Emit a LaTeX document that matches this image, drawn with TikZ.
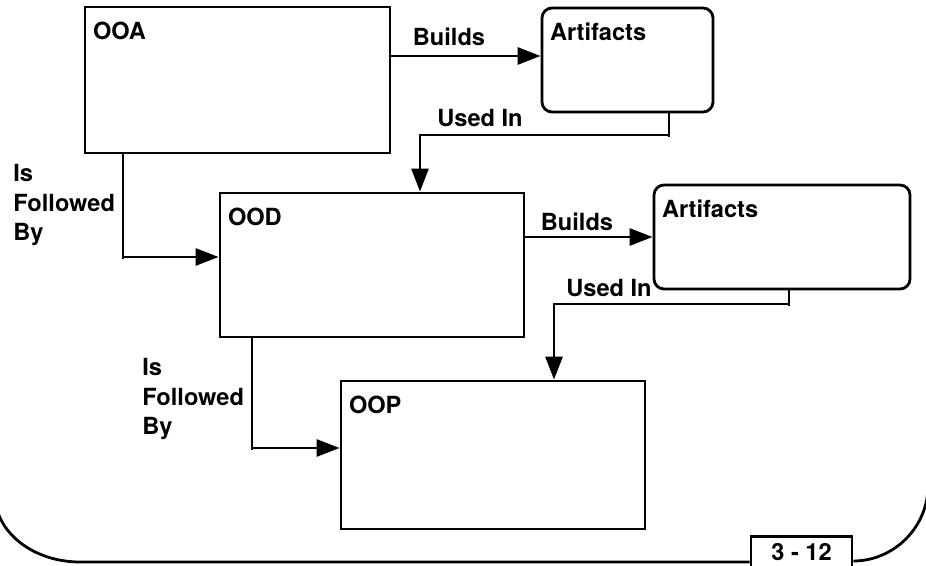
\documentclass[tikz,border=0pt]{standalone}
\usepackage{fontspec}
\setmainfont{TeX Gyre Heros}
\usetikzlibrary{arrows.meta}
\begin{document}
\begin{tikzpicture}[x=0.5pt, y=-0.5pt, line width=1.4pt,
  font=\fontsize{11.8}{14.75}\selectfont\bfseries,
  box/.style={draw, inner sep=0pt},
  art/.style={box, rounded corners=5pt},
  title/.style={anchor=north west, inner sep=0pt, xshift=4pt, yshift=-7.5pt},
  lbl/.style={inner sep=0pt},
  arr/.style={-{Triangle[length=11.5pt,width=8.5pt]}}]
\useasboundingbox (0,0) rectangle (926,566);
% boxes
\node[box, minimum width=152.5pt, minimum height=73pt, label={[title]north west:OOA}] (ooa) at (237.5,80) {};
\node[art, minimum width=85.5pt, minimum height=52pt, label={[title]north west:Artifacts}] (art1) at (627.5,60) {};
\node[box, minimum width=152pt, minimum height=72pt, label={[title]north west:OOD}] (ood) at (372,265) {};
\node[art, minimum width=128pt, minimum height=52pt, label={[title]north west:Artifacts}] (art2) at (782,237) {};
\node[box, minimum width=152pt, minimum height=74pt, label={[title]north west:OOP}] (oop) at (493,455) {};
% labels
\node[lbl] (builds1) at (449,37) {Builds};
\node[lbl] (used1) at (480,118) {Used In};
\node[lbl] (builds2) at (577,222) {Builds};
\node[lbl] (used2) at (609,288) {Used In};
\node[lbl, anchor=north west, align=left] (foll1) at (12,163) {Is\\Followed\\By};
\node[lbl, anchor=north west, align=left] (foll2) at (141,357) {Is\\Followed\\By};
% corners
\coordinate (b1) at (0,56);
\coordinate (u1) at (669,135);
\coordinate (d1) at (420,0);
\coordinate (u2) at (789,304);
\coordinate (d2) at (554,0);
\coordinate (f1) at (123,257);
\coordinate (f2) at (252,448);
% connectors
\draw[arr] (ooa.east |- b1) -- (art1.west |- b1);
\draw[arr] (ood.east |- art2.west) -- (art2.west);
\draw (art1.south -| u1) -- ([yshift=-1pt]u1);
\draw[arr] (u1) -| (d1 |- ood.north);
\draw (art2.south -| u2) -- ([yshift=-1pt]u2);
\draw[arr] (u2) -| (d2 |- oop.north);
\draw (ooa.south -| f1) -- ([yshift=-1pt]f1);
\draw[arr] (f1) -- (ood.west |- f1);
\draw (ood.south -| f2) -- ([yshift=-1pt]f2);
\draw[arr] (f2) -- (oop.west |- f2);
% page frame
\node[box, anchor=north, minimum width=50.5pt, minimum height=20pt, text depth=4pt] (page) at (801.5,535) {3 - 12};
\draw (-5,495) .. controls (-5,532) and (33,562) .. (80,562) -- (page.west |- 0,562);
\draw (page.east |- 0,561) .. controls (894,561) and (928,527) .. (928,486);
\end{tikzpicture}
\end{document}
